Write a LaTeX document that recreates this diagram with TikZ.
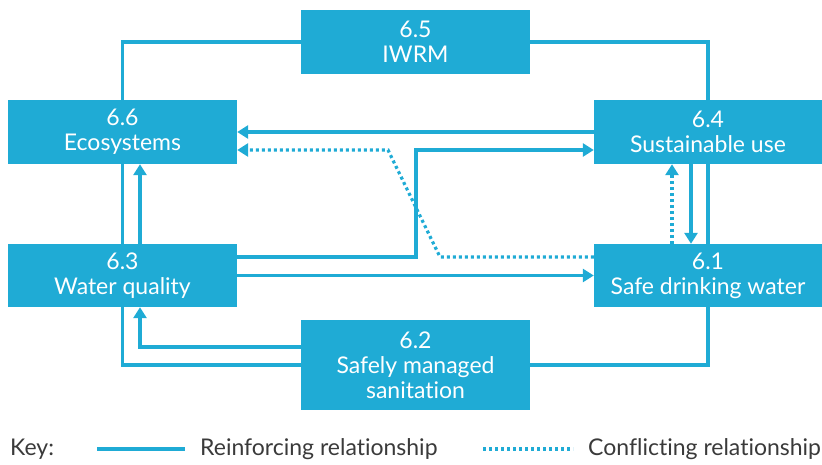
\documentclass[tikz,border=0pt]{standalone}
\usepackage{fontspec}
\setmainfont{Lato}[Ligatures=NoCommon]
\usepackage{xcolor}
\definecolor{sdgblue}{HTML}{1FABD5}
\definecolor{keygray}{HTML}{3A3A3A}
\usetikzlibrary{arrows.meta, positioning, calc}

\begin{document}
\begin{tikzpicture}[
    x=1pt, y=-1pt,
    every node/.style={font=\fontsize{23}{25}\selectfont},
    target/.style={fill=sdgblue, text=white, align=center, inner sep=0pt,
                   minimum width=229pt, minimum height=64pt},
    link/.style={draw=sdgblue, line width=3.2pt},
    reinforce/.style={link, -{Triangle[length=11pt, width=13pt]}},
    conflict/.style={link, dash pattern=on 3pt off 3pt},
    conflictarr/.style={conflict, -{Triangle[length=11pt, width=13pt]}},
    keytext/.style={text=keygray, anchor=west, inner sep=0pt},
]
\useasboundingbox (0,0) rectangle (822,464);

% --- SDG 6 targets ---
\node[target] (iwrm) at (415.5, 42)  {6.5\\IWRM};
\node[target] (eco)  at (122.5, 132) {6.6\\Ecosystems};
\node[target, minimum width=228pt] (sust) at (708, 132) {6.4\\Sustainable use};
\node[target, minimum height=63pt] (wq)   at (122.5, 275.5) {6.3\\Water quality};
\node[target, minimum width=228pt, minimum height=63pt]
    (safe) at (708, 275.5) {6.1\\Safe drinking water};
\node[target, minimum height=90pt] (sani) at (415.5, 365) {6.2\\Safely managed\\sanitation};

% --- Bend points ---
\coordinate (qStep)  at (416, 257);      % water quality -> sustainable use
\coordinate (cLow)   at (440, 257);      % conflict path, lower corner
\coordinate (cHigh)  at (388, 150);      % conflict path, upper corner

% --- Reinforcing links ---
\draw[link] (iwrm.west) -| (eco.north);
\draw[link] (iwrm.east) -| (sust.north);
\draw[reinforce] (sust.west) -- (eco.east);
\draw[reinforce] ($(wq.east)+(0,-18.5)$) -- (qStep) |- ($(sust.west)+(0,18)$);
\draw[reinforce] (wq.east) -- (safe.west);
\draw[reinforce] ($(sust.south)+(-17,0)$) -- ($(safe.north)+(-17,0)$);
\draw[link] (sust.south) -- (safe.north);
\draw[reinforce] ($(wq.north)+(17.5,0)$) -- ($(eco.south)+(17.5,0)$);
\draw[link] (eco.south) -- (wq.north);
\draw[reinforce] ($(sani.west)+(0,-18)$) -| ($(wq.south)+(17.5,0)$);
\draw[link] (sani.west) -| (wq.south);
\draw[link] (safe.south) |- (sani.east);

% --- Conflicting links ---
\draw[conflictarr] ($(safe.west)+(0,-18.5)$) -- (cLow) -- (cHigh)
    -- ($(eco.east)+(0,18)$);
\draw[conflictarr] ($(safe.north)+(-36,0)$) -- ($(sust.south)+(-36,0)$);

% --- Key ---
\node[keytext] (key)   at (10, 449)  {Key:};
\node[keytext] (reinf) at (200, 449) {Reinforcing relationship};
\node[keytext] (confl) at (588, 449) {Conflicting relationship};
\coordinate (rA) at (97, 449);
\coordinate (cA) at (483, 449);
\draw[link] (rA) -- ($(reinf.west)+(-15,0)$);
\draw[conflict] (cA) -- ($(confl.west)+(-15,0)$);
\end{tikzpicture}
\end{document}
